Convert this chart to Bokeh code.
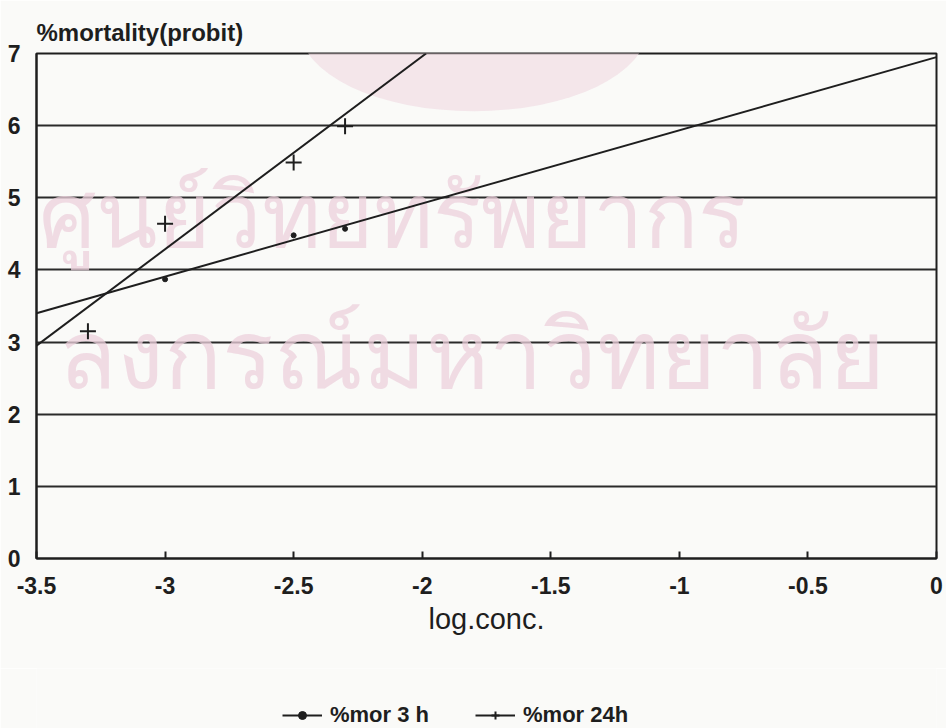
from bokeh.plotting import figure
from bokeh.layouts import column
from bokeh.models import (ColumnDataSource, Legend, LegendItem, FixedTicker,
                          Label, Range1d)
from bokeh.embed import file_html
from bokeh.resources import INLINE

# Observed probit mortality against log concentration
log_conc_3h = [-3.0, -2.5, -2.3]
probit_3h = [3.87, 4.48, 4.57]
log_conc_24h = [-3.3, -3.0, -2.5, -2.3]
probit_24h = [3.15, 4.64, 5.49, 5.99]

# Regression line end points
fit_x_3h = [-3.5, 0.0]
fit_y_3h = [3.40, 6.95]
fit_x_24h = [-3.5, -1.985]
fit_y_24h = [2.95, 7.0]

x_ticks = [-3.5, -3, -2.5, -2, -1.5, -1, -0.5, 0]
x_tick_labels = ["-3.5", "-3", "-2.5", "-2", "-1.5", "-1", "-0.5", "0"]
y_ticks = [0, 1, 2, 3, 4, 5, 6, 7]
series_names = ["%mor 3 h", "%mor 24h"]

FONT = "Liberation Sans"
INK = "#1e1e1e"
STAMP = "#ecd0dc"
PAPER = "#fafaf8"


def draw_series(fig):
    """Fitted lines and observed points for both exposure times."""
    src3 = ColumnDataSource(dict(x=log_conc_3h, y=probit_3h))
    src24 = ColumnDataSource(dict(x=log_conc_24h, y=probit_24h))
    l3 = fig.line(fit_x_3h, fit_y_3h, line_color=INK, line_width=2)
    l24 = fig.line(fit_x_24h, fit_y_24h, line_color=INK, line_width=2)
    m3 = fig.scatter("x", "y", source=src3, marker="circle", size=5,
                     fill_color=INK, line_color=INK)
    m24 = fig.scatter("x", "y", source=src24, marker="cross", size=16,
                      line_color=INK, line_width=2)
    return (l3, m3), (l24, m24)


p = figure(width=946, height=668, frame_width=900, frame_height=505,
           output_backend="svg", toolbar_location=None,
           x_range=Range1d(-3.5, 0), y_range=Range1d(0, 7),
           min_border_left=36, min_border_right=10, min_border_top=53,
           min_border_bottom=110,
           background_fill_color=PAPER, border_fill_color=PAPER)

# faint library seal and stamp text behind the chart
p.ellipse(x=-1.8, y=7.35, width=1.35, height=2.3, fill_color="#f1dde4",
          fill_alpha=0.7, line_color=None, level="underlay")
wm1 = Label(x=-3.49, y=4.06, text="ศูนย์วิทยทรัพยากร",
            text_font_size="90px", text_color=STAMP, text_alpha=0.75,
            level="underlay")
wm2 = Label(x=-0.2, y=2.09, text="ลงกรณ์มหาวิทยาลัย", text_align="right",
            text_font_size="96px", text_color=STAMP, text_alpha=0.75,
            level="underlay")
p.add_layout(wm1)
p.add_layout(wm2)

draw_series(p)

# axes
p.xaxis.ticker = FixedTicker(ticks=x_ticks)
p.xaxis.major_label_overrides = {t: s for t, s in zip(x_ticks, x_tick_labels)}
p.yaxis.ticker = FixedTicker(ticks=y_ticks)
for ax in (p.xaxis[0], p.yaxis[0]):
    ax.axis_line_color = INK
    ax.axis_line_width = 2
    ax.minor_tick_line_color = None
    ax.major_label_text_font = FONT
    ax.major_label_text_font_style = "bold"
    ax.major_label_text_font_size = "23px"
    ax.major_label_text_color = INK
p.xaxis.major_tick_in = 7
p.xaxis.major_tick_out = 0
p.xaxis.major_tick_line_color = INK
p.xaxis.major_tick_line_width = 2
p.xaxis.major_label_standoff = 18
p.yaxis.major_tick_line_color = None
p.yaxis.major_label_standoff = 10

p.xaxis.axis_label = "log.conc."
p.xaxis.axis_label_text_font = FONT
p.xaxis.axis_label_text_font_style = "normal"
p.xaxis.axis_label_text_font_size = "29px"
p.xaxis.axis_label_text_color = INK
p.xaxis.axis_label_standoff = 6

p.title.text = "%mortality(probit)"
p.title.text_font = FONT
p.title.text_font_style = "bold"
p.title.text_font_size = "24px"
p.title.text_color = INK
p.title.align = "left"
p.title.offset = 0
p.title.standoff = 16

p.xgrid.grid_line_color = None
p.ygrid.grid_line_color = "#2a2a2a"
p.ygrid.grid_line_width = 2
p.outline_line_color = INK
p.outline_line_width = 2

# legend strip under the chart; its sample glyphs sit outside the strip's view
key = figure(width=946, height=60, output_backend="svg", toolbar_location=None,
             x_range=Range1d(10, 11), y_range=Range1d(10, 11),
             min_border=0, background_fill_color=PAPER,
             border_fill_color=PAPER, outline_line_color=None)
key.axis.visible = False
key.grid.visible = False
key_3h, key_24h = draw_series(key)

legend = Legend(items=[LegendItem(label=series_names[0], renderers=list(key_3h)),
                       LegendItem(label=series_names[1], renderers=list(key_24h))],
                orientation="horizontal", location=(246, 0),
                label_text_font=FONT, label_text_font_style="bold",
                label_text_font_size="22px", label_text_color=INK,
                background_fill_alpha=0, border_line_color=None,
                glyph_width=40, label_standoff=8, spacing=46,
                margin=0, padding=0)
key.add_layout(legend, "center")

open("out.html", "w").write(file_html(column(p, key, spacing=0), INLINE))
